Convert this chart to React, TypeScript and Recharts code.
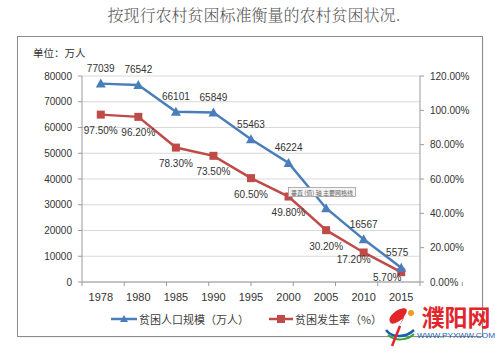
import React from 'react';
import { ComposedChart, Line, XAxis, YAxis, CartesianGrid, Legend, LabelList } from 'recharts';

const years = ['1978', '1980', '1985', '1990', '1995', '2000', '2005', '2010', '2015'];
const poorPopulation = [77039, 76542, 66101, 65849, 55463, 46224, 28662, 16567, 5575];
const povertyRate = [97.5, 96.2, 78.3, 73.5, 60.5, 49.8, 30.2, 17.2, 5.7];
const leftTicks = [0, 10000, 20000, 30000, 40000, 50000, 60000, 70000, 80000];
const rightTicks = [0, 20, 40, 60, 80, 100, 120];
const boundaryTicks = [0, 1, 2, 3, 4, 5, 6, 7, 8, 9];
const seriesNames = ['贫困人口规模（万人）', '贫困发生率（%）'];
const titleText = '按现行农村贫困标准衡量的农村贫困状况.';
const unitText = '单位：万人';
const tooltipText = '垂直 (值) 轴 主要网格线';
const siteName = '濮阳网';
const siteUrl = 'WWW.PYXWW.COM';

const data = years.map((y, i) => ({ year: y, pop: poorPopulation[i], rate: povertyRate[i] }));

const BLUE = '#4A7EBB';
const RED = '#BE4B48';
const AXIS = '#9a9a9a';
const GRID = '#d9d9d9';
const TXT = '#333333';
const NUM_FONT = '"Liberation Sans", Arial, sans-serif';
const CJK_FONT = '"Noto Sans CJK SC", "Noto Sans", sans-serif';

const TriangleDot = (props: any) => {
  const { cx, cy, index } = props;
  if (cx == null || cy == null) return <g key={`tn${index}`} />;
  return (
    <path key={`t${index}`} d={`M${cx},${cy - 5} L${cx + 5},${cy + 4} L${cx - 5},${cy + 4} Z`} fill={BLUE} />
  );
};

const SquareDot = (props: any) => {
  const { cx, cy, index } = props;
  if (cx == null || cy == null) return <g key={`sn${index}`} />;
  return <rect key={`s${index}`} x={cx - 4} y={cy - 4} width={8} height={8} fill={RED} />;
};

const popLabel = (props: any) => {
  const { x, y, value, index } = props;
  const dx = index === years.length - 1 ? -4 : 0;
  return (
    <text x={x + dx} y={y - 15} textAnchor="middle" dominantBaseline="central" fontSize={10} fill={TXT} fontFamily={NUM_FONT}>
      {value}
    </text>
  );
};

const rateLabel = (props: any) => {
  const { x, y, value, index } = props;
  let dx = 0;
  let dy = 16;
  if (index === years.length - 2) { dx = -10; dy = 7; }
  if (index === years.length - 1) { dx = -14; dy = 5; }
  return (
    <text x={x + dx} y={y + dy} textAnchor="middle" dominantBaseline="central" fontSize={10} fill={TXT} fontFamily={NUM_FONT}>
      {Number(value).toFixed(2) + '%'}
    </text>
  );
};

const XTick = (props: any) => {
  const { x, y, payload } = props;
  return (
    <text x={x} y={y + 6} textAnchor="middle" dominantBaseline="central" fontSize={11} fill={TXT} fontFamily={NUM_FONT}>
      {payload.value}
    </text>
  );
};

const LegendContent = () => (
  <div style={{ display: 'flex', justifyContent: 'center', alignItems: 'center', height: 20, paddingRight: 7, fontFamily: CJK_FONT, fontSize: 11, color: '#404040' }}>
    <div style={{ display: 'flex', alignItems: 'center', marginRight: 20 }}>
      <svg width={26} height={10} style={{ marginRight: 2 }}>
        <line x1={0} y1={5} x2={26} y2={5} stroke={BLUE} strokeWidth={2.5} />
        <path d="M13,1 L17,8 L9,8 Z" fill={BLUE} />
      </svg>
      <span>{seriesNames[0]}</span>
    </div>
    <div style={{ display: 'flex', alignItems: 'center' }}>
      <svg width={24} height={10} style={{ marginRight: 2 }}>
        <line x1={0} y1={5} x2={24} y2={5} stroke={RED} strokeWidth={2.5} />
        <rect x={8} y={1} width={8} height={8} fill={RED} />
      </svg>
      <span>{seriesNames[1]}</span>
    </div>
  </div>
);

export default function App() {
  return (
    <div style={{ position: 'absolute', left: 0, top: 0, width: 500, height: 351, background: '#fff' }}>
      <svg width={500} height={351} style={{ position: 'absolute', left: 0, top: 0 }}>
        <text x={254} y={21} textAnchor="middle" fontSize={16} fill="#555" fontFamily={'"Noto Serif CJK SC", ' + CJK_FONT} fontWeight={300}>
          {titleText}
        </text>
        <rect x={18.5} y={37.5} width={465} height={300} fill="#e9e9e9" />
        <rect x={17.5} y={36.5} width={465} height={300} fill="#fff" stroke="#8c8c8c" strokeWidth={1} />
        <text x={33} y={52} dominantBaseline="central" fontSize={10.5} fill={TXT} fontFamily={CJK_FONT}>
          {unitText}
        </text>
      </svg>
      <div style={{ position: 'absolute', left: 0, top: 0 }}>
        <ComposedChart width={500} height={351} data={data} margin={{ top: 76, right: 0, bottom: 22, left: 0 }}>
          <CartesianGrid yAxisId="left" xAxisId="cat" vertical={false} stroke={GRID} />
          <XAxis
            xAxisId="bounds"
            type="number"
            domain={[0, 9]}
            ticks={boundaryTicks}
            tickFormatter={() => ''}
            height={1}
            axisLine={{ stroke: AXIS }}
            tickLine={{ stroke: AXIS }}
            tickSize={4}
            allowDataOverflow
          />
          <XAxis
            xAxisId="cat"
            dataKey="year"
            scale="band"
            height={26}
            axisLine={false}
            tickLine={false}
            tick={<XTick />}
            interval={0}
          />
          <YAxis
            yAxisId="left"
            orientation="left"
            width={82}
            domain={[0, 80000]}
            ticks={leftTicks}
            axisLine={{ stroke: AXIS }}
            tickLine={{ stroke: AXIS }}
            tickSize={4}
            tickMargin={6}
            tick={{ fontSize: 10, fill: TXT, fontFamily: NUM_FONT }}
            interval={0}
          />
          <YAxis
            yAxisId="right"
            orientation="right"
            width={80}
            domain={[0, 120]}
            ticks={rightTicks}
            tickFormatter={(v: number) => v.toFixed(2) + '%'}
            axisLine={{ stroke: AXIS }}
            tickLine={{ stroke: AXIS }}
            tickSize={4}
            tickMargin={6}
            tick={{ fontSize: 10, fill: TXT, fontFamily: NUM_FONT }}
            interval={0}
          />
          <Legend verticalAlign="bottom" content={<LegendContent />} />
          <Line
            xAxisId="cat"
            yAxisId="right"
            dataKey="rate"
            name={seriesNames[1]}
            stroke={RED}
            strokeWidth={2.5}
            dot={SquareDot}
            activeDot={false}
            isAnimationActive={false}
          >
            <LabelList dataKey="rate" content={rateLabel} />
          </Line>
          <Line
            xAxisId="cat"
            yAxisId="left"
            dataKey="pop"
            name={seriesNames[0]}
            stroke={BLUE}
            strokeWidth={2.5}
            dot={TriangleDot}
            activeDot={false}
            isAnimationActive={false}
          >
            <LabelList dataKey="pop" content={popLabel} />
          </Line>
        </ComposedChart>
      </div>
      <svg width={500} height={351} style={{ position: 'absolute', left: 0, top: 0, pointerEvents: 'none' }}>
        <rect x={288.5} y={187.5} width={67} height={9} fill="#f4f4f4" stroke="#a0a0a0" strokeWidth={0.8} />
        <text x={322} y={192} textAnchor="middle" dominantBaseline="central" fontSize={6} fill="#666" fontFamily={CJK_FONT}>
          {tooltipText}
        </text>
        <path d="M396,311 C404,306 410,308 405,315 L397,330 L404,318 C398,322 392,326 390,322 C388,318 392,314 396,311 Z" fill="#e2252b" />
        <path d="M386,330 C392,338 406,338 414,330" fill="none" stroke="#1f5fb0" strokeWidth={2.5} />
        <path d="M388,335 C396,342 408,340 414,334" fill="none" stroke="#3aa33a" strokeWidth={2} />
        <circle cx={411} cy={313} r={3} fill="#f39a1e" />
        <path d="M392,346 L400,326" stroke="#e2252b" strokeWidth={2.5} />
        <text x={456} y={316} textAnchor="middle" dominantBaseline="central" fontSize={23} fontWeight={700} fill="#e2252b" fontFamily={CJK_FONT}>
          {siteName}
        </text>
        <text x={417} y={335} dominantBaseline="central" fontSize={8} fill="#1f5fb0" fontFamily={NUM_FONT} textLength={78} lengthAdjust="spacingAndGlyphs">
          {siteUrl}
        </text>
      </svg>
    </div>
  );
}
